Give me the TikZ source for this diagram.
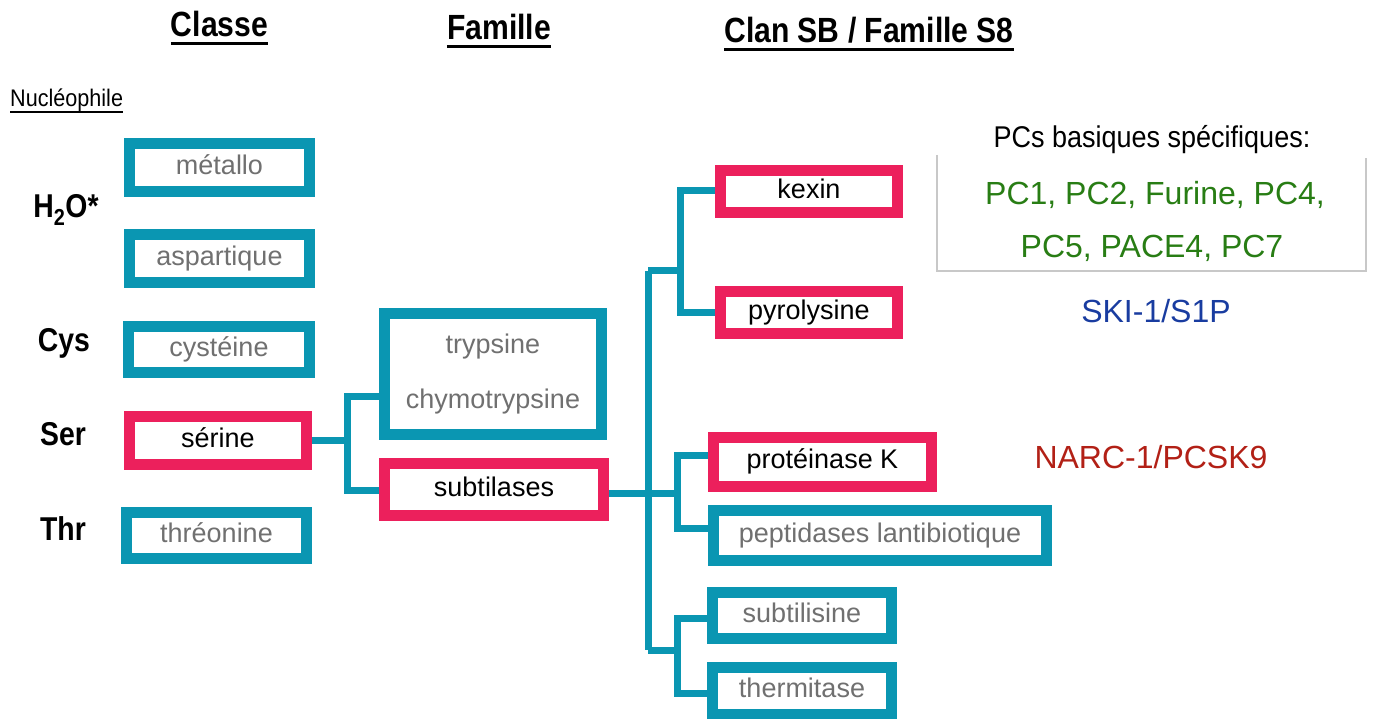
\documentclass[tikz,border=0pt]{standalone}
\usepackage{fontspec}
\setmainfont{Liberation Sans}
\newfontfamily\condfont[FakeStretch=0.86]{Liberation Sans}
\newfontfamily\narrowfont[FakeStretch=0.9]{Liberation Sans}
\usetikzlibrary{backgrounds}
\definecolor{teal}{RGB}{10,150,178}
\definecolor{pinkc}{RGB}{236,32,92}
\definecolor{graytxt}{RGB}{112,112,112}
\definecolor{greentxt}{RGB}{40,125,20}
\definecolor{bluetxt}{RGB}{25,60,160}
\definecolor{redtxt}{RGB}{178,32,22}
\definecolor{boxline}{RGB}{200,200,200}
\tikzset{
  box/.style={draw=teal, line width=11pt, fill=white, inner sep=0pt,
    font=\fontsize{27}{32}\selectfont, text=graytxt},
  pinkbox/.style={box, draw=pinkc, text=black},
  oneline/.style={text height=19.5pt, text depth=5.7pt},
  conn/.style={draw=teal, line width=7pt},
  title/.style={font=\condfont\bfseries\fontsize{35}{40}\selectfont, anchor=base, inner sep=0pt},
  nuc/.style={font=\condfont\bfseries\fontsize{33}{38}\selectfont, anchor=base, inner sep=0pt},
  uline/.style={line width=3pt, black},
  plain/.style={anchor=base, inner sep=0pt, font=\fontsize{32}{38}\selectfont}
}
\begin{document}
\begin{tikzpicture}[x=1pt,y=-1pt]
\useasboundingbox (0,0) rectangle (1377,719);

% titles
\node[title] (classe) at (219.5,37) {Classe};
\node[title] (famille) at (499,40) {Famille};
\node[title] (clan) at (869,43) {Clan SB / Famille S8};
\draw[uline] ([yshift=-6.5pt]classe.base west) -- ([yshift=-6.5pt]classe.base east);
\draw[uline] ([yshift=-6.5pt]famille.base west) -- ([yshift=-6.5pt]famille.base east);
\draw[uline] ([yshift=-7pt]clan.base west) -- ([yshift=-7pt]clan.base east);

\node[anchor=base west, inner sep=0pt, font=\narrowfont\fontsize{24}{28}\selectfont] (nucl) at (10,107) {Nucléophile};
\draw[line width=2pt] ([yshift=-5pt]nucl.base west) -- ([yshift=-5pt]nucl.base east);

% nucleophile labels
\node[nuc] (h2o) at (66,218) {H\textsubscript{2}O*};
\node[nuc] (cys) at (64,352) {Cys};
\node[nuc] (ser) at (63,445) {Ser};
\node[nuc] (thr) at (63,540) {Thr};

% class boxes
\node[box, oneline, minimum width=180pt, minimum height=48pt] (metallo) at (219.5,167.5) {métallo};
\node[box, oneline, minimum width=180pt, minimum height=48pt] (aspartique) at (219.5,258.5) {aspartique};
\node[box, oneline, minimum width=181pt, minimum height=46pt] (cysteine) at (219,349.5) {cystéine};
\node[pinkbox, oneline, minimum width=177pt, minimum height=48pt] (serine) at (218,440.5) {sérine};
\node[box, oneline, minimum width=180pt, minimum height=46pt] (threonine) at (216.5,535.5) {thréonine};

% family boxes
\node[box, align=center, font=\fontsize{27}{55}\selectfont, minimum width=217pt, minimum height=121pt] (trypsine) at (493,374) {trypsine\\chymotrypsine};
\node[pinkbox, oneline, minimum width=219pt, minimum height=52pt] (subtilases) at (494,489.5) {subtilases};

% clan boxes
\node[pinkbox, oneline, minimum width=177pt, minimum height=42pt] (kexin) at (809,192) {kexin};
\node[pinkbox, oneline, minimum width=177pt, minimum height=42pt] (pyrolysine) at (809,313) {pyrolysine};
\node[pinkbox, oneline, minimum width=218pt, minimum height=49pt] (proteinase) at (822.5,462) {protéinase K};
\node[box, oneline, minimum width=333pt, minimum height=50pt] (peptidases) at (880,535.5) {peptidases lantibiotique};
\node[box, oneline, minimum width=179pt, minimum height=46pt] (subtilisine) at (802,615.5) {subtilisine};
\node[box, oneline, minimum width=179pt, minimum height=47pt] (thermitase) at (802,691) {thermitase};

% connectors
\coordinate (jA) at (347,397);
\coordinate (jB) at (347,490);
\coordinate (tTop) at (648,271);
\coordinate (tBot) at (648,650);
\coordinate (kA) at (680,191);
\coordinate (kB) at (680,313);
\coordinate (mid) at (677,493);
\coordinate (pA) at (677,455);
\coordinate (pB) at (677,528);
\coordinate (sA) at (677,618);
\coordinate (sB) at (677,693);
\begin{scope}[on background layer]
\draw[conn] (serine.east) -- (serine.east -| jA);
\draw[conn] (trypsine.west |- jA) -- (jA) -- (jB) -- (subtilases.west |- jB);
\draw[conn] (tTop) -- (tBot);
\draw[conn] (tTop) -- (tTop -| kA);
\draw[conn] (kexin.west |- kA) -- (kA) -- (kB) -- (pyrolysine.west |- kB);
\draw[conn] (subtilases.east |- mid) -- (mid);
\draw[conn] (proteinase.west |- pA) -- (pA) -- (pB) -- (peptidases.west |- pB);
\draw[conn] (tBot) -- (tBot -| sA);
\draw[conn] (subtilisine.west |- sA) -- (sA) -- (sB) -- (thermitase.west |- sB);
\end{scope}

% right annotations
\draw[boxline, line width=2pt] (937,155) |- (1366,271) -- (1366,158);
\node[anchor=base, inner sep=0pt, font=\narrowfont\fontsize{30}{36}\selectfont] (pcs) at (1152,148) {PCs basiques spécifiques:};
\node[plain, text=greentxt] (green1) at (1155,205) {PC1, PC2, Furine, PC4,};
\node[plain, text=greentxt] (green2) at (1152,258) {PC5, PACE4, PC7};
\node[plain, text=bluetxt] (ski) at (1156,323) {SKI-1/S1P};
\node[plain, text=redtxt] (narc) at (1151,468) {NARC-1/PCSK9};
\end{tikzpicture}
\end{document}
